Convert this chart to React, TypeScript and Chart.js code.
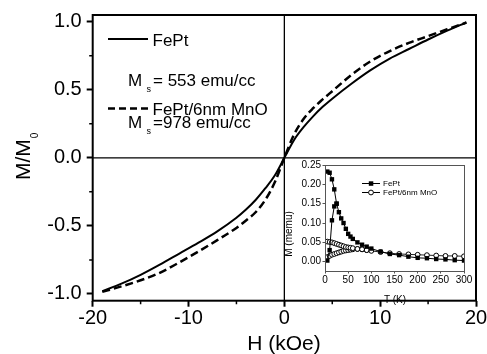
import React, { useEffect, useRef } from "react";
import { Chart, registerables } from "chart.js";

Chart.register(...registerables);

const FONT = "'Liberation Sans', Arial, Helvetica, sans-serif";

// ---- main hysteresis data ----
const H_VALUES = [-19, -17, -15, -13, -11, -9, -7, -5, -4, -3, -2, -1, 0, 1, 2, 3, 4, 5, 7, 9, 11, 13, 15, 17, 19];
const M_FEPT = [-0.98, -0.925, -0.86, -0.785, -0.705, -0.625, -0.54, -0.44, -0.38, -0.31, -0.225, -0.13, 0, 0.13, 0.225, 0.305, 0.375, 0.435, 0.545, 0.645, 0.73, 0.80, 0.87, 0.935, 0.995];
const M_FEPT_MNO = [-0.985, -0.945, -0.90, -0.845, -0.77, -0.69, -0.605, -0.515, -0.46, -0.40, -0.31, -0.18, 0, 0.17, 0.285, 0.365, 0.43, 0.49, 0.61, 0.71, 0.785, 0.845, 0.895, 0.945, 0.995];
const X_TICKS = [-20, -10, 0, 10, 20];
const Y_TICKS = [-1, -0.5, 0, 0.5, 1];
const X_MINOR = [-15, -5, 5, 15];
const Y_MINOR = [-0.75, -0.25, 0.25, 0.75];

// ---- inset M(T) data ----
const T_FC = [5, 10, 15, 20, 25, 30, 35, 40, 45, 50, 55, 60, 70, 80, 90, 100, 120, 140, 160, 180, 200, 220, 240, 260, 280, 300];
const FEPT_FC = [0.233, 0.230, 0.213, 0.187, 0.150, 0.128, 0.112, 0.100, 0.085, 0.072, 0.065, 0.059, 0.050, 0.044, 0.039, 0.034, 0.026, 0.020, 0.017, 0.013, 0.010, 0.009, 0.007, 0.006, 0.004, 0.003];
const T_FEPT_ZFC = [5, 10, 15, 20, 25];
const FEPT_ZFC = [0.003, 0.030, 0.107, 0.143, 0.150];
const MNO_FC = [0.052, 0.051, 0.050, 0.048, 0.046, 0.044, 0.042, 0.040, 0.038, 0.037, 0.036, 0.035, 0.033, 0.032, 0.030, 0.028, 0.025, 0.022, 0.020, 0.019, 0.018, 0.017, 0.016, 0.015, 0.015, 0.014];
const T_MNO_ZFC = [5, 10, 15, 20, 25, 30, 35, 40, 45, 50, 55, 60, 70, 80, 90];
const MNO_ZFC = [0.012, 0.015, 0.018, 0.020, 0.022, 0.024, 0.026, 0.028, 0.029, 0.030, 0.031, 0.032, 0.033, 0.032, 0.030];
const INSET_X_TICKS = [0, 50, 100, 150, 200, 250, 300];
const INSET_Y_TICKS = [0, 0.05, 0.1, 0.15, 0.2, 0.25];

const pts = (xs: number[], ys: number[]) => xs.map((x, i) => ({ x, y: ys[i] }));

const mainPlugin = {
  id: "mainDecor",
  beforeDatasetsDraw(chart: any) {
    const { ctx, chartArea, scales } = chart;
    const x0 = scales.x.getPixelForValue(0);
    const y0 = scales.y.getPixelForValue(0);
    ctx.save();
    ctx.strokeStyle = "#000";
    ctx.lineWidth = 1.3;
    ctx.beginPath();
    ctx.moveTo(x0, chartArea.top);
    ctx.lineTo(x0, chartArea.bottom);
    ctx.moveTo(chartArea.left, y0);
    ctx.lineTo(chartArea.right, y0);
    ctx.stroke();
    ctx.restore();
  },
  afterDraw(chart: any) {
    const { ctx, chartArea, scales } = chart;
    ctx.save();
    ctx.strokeStyle = "#000";
    ctx.lineWidth = 2;
    ctx.strokeRect(chartArea.left, chartArea.top, chartArea.right - chartArea.left, chartArea.bottom - chartArea.top);
    // minor ticks
    ctx.lineWidth = 1.5;
    ctx.beginPath();
    X_MINOR.forEach((v) => {
      const px = scales.x.getPixelForValue(v);
      ctx.moveTo(px, chartArea.bottom);
      ctx.lineTo(px, chartArea.bottom + 3.5);
    });
    Y_MINOR.forEach((v) => {
      const py = scales.y.getPixelForValue(v);
      ctx.moveTo(chartArea.left, py);
      ctx.lineTo(chartArea.left - 3.5, py);
    });
    ctx.stroke();

    ctx.fillStyle = "#000";
    // x title
    ctx.font = `21px ${FONT}`;
    ctx.textAlign = "center";
    ctx.textBaseline = "alphabetic";
    ctx.fillText("H (kOe)", 284, 350);
    // y title M/M0
    ctx.save();
    ctx.translate(30, 180);
    ctx.rotate(-Math.PI / 2);
    ctx.textAlign = "left";
    ctx.font = `21px ${FONT}`;
    ctx.fillText("M/M", 0, 0);
    const w = ctx.measureText("M/M").width;
    ctx.font = `10px ${FONT}`;
    ctx.fillText("0", w + 1, 8);
    ctx.restore();

    // legend
    ctx.lineWidth = 2;
    ctx.beginPath();
    ctx.moveTo(108, 39);
    ctx.lineTo(148, 39);
    ctx.stroke();
    ctx.lineWidth = 2.5;
    ctx.setLineDash([7, 4]);
    ctx.beginPath();
    ctx.moveTo(108, 108.5);
    ctx.lineTo(148, 108.5);
    ctx.stroke();
    ctx.setLineDash([]);
    ctx.textAlign = "left";
    ctx.font = `17px ${FONT}`;
    ctx.fillText("FePt", 152.5, 45.7);
    ctx.fillText("FePt/6nm MnO", 152.5, 115);
    const msLine = (y: number, rest: string) => {
      ctx.font = `17px ${FONT}`;
      ctx.fillText("M", 128, y);
      ctx.font = `9px ${FONT}`;
      ctx.fillText("s", 146.5, y + 5.5);
      ctx.font = `17px ${FONT}`;
      ctx.fillText(rest, 153, y);
    };
    msLine(86, "= 553 emu/cc");
    msLine(128.3, "=978 emu/cc");
    ctx.restore();
  },
};

const insetPlugin = {
  id: "insetDecor",
  afterDraw(chart: any) {
    const { ctx, chartArea } = chart;
    ctx.save();
    ctx.strokeStyle = "#555";
    ctx.lineWidth = 1;
    ctx.strokeRect(chartArea.left + 0.5, chartArea.top + 0.5, chartArea.right - chartArea.left, chartArea.bottom - chartArea.top);
    ctx.fillStyle = "#000";
    ctx.font = `10px ${FONT}`;
    ctx.textAlign = "center";
    ctx.textBaseline = "alphabetic";
    ctx.fillText("T (K)", 395, 302.5);
    ctx.save();
    ctx.translate(292, 234);
    ctx.rotate(-Math.PI / 2);
    ctx.fillText("M (memu)", 0, 0);
    ctx.restore();

    // legend
    ctx.strokeStyle = "#000";
    ctx.lineWidth = 1;
    ctx.beginPath();
    ctx.moveTo(362, 183.5);
    ctx.lineTo(380, 183.5);
    ctx.moveTo(362, 192.5);
    ctx.lineTo(380, 192.5);
    ctx.stroke();
    ctx.fillStyle = "#000";
    ctx.fillRect(368.8, 181.3, 4.5, 4.5);
    ctx.beginPath();
    ctx.arc(371, 192.5, 2.4, 0, Math.PI * 2);
    ctx.fillStyle = "#fff";
    ctx.fill();
    ctx.stroke();
    ctx.fillStyle = "#000";
    ctx.font = `8px ${FONT}`;
    ctx.textAlign = "left";
    ctx.fillText("FePt", 383, 186.3);
    ctx.fillText("FePt/6nm MnO", 383, 195.3);
    ctx.restore();
  },
};

export default function App() {
  const mainRef = useRef<HTMLCanvasElement>(null);
  const insetRef = useRef<HTMLCanvasElement>(null);

  useEffect(() => {
    const main = new Chart(mainRef.current as HTMLCanvasElement, {
      type: "scatter",
      data: {
        datasets: [
          {
            data: pts(H_VALUES, M_FEPT),
            showLine: true,
            borderColor: "#000",
            borderWidth: 2,
            pointRadius: 0,
            cubicInterpolationMode: "monotone",
          },
          {
            data: pts(H_VALUES, M_FEPT_MNO),
            showLine: true,
            borderColor: "#000",
            borderWidth: 2.5,
            borderDash: [8, 4],
            pointRadius: 0,
            cubicInterpolationMode: "monotone",
          },
        ],
      } as any,
      options: {
        responsive: false,
        animation: false,
        devicePixelRatio: 1,
        layout: { padding: { top: 15, right: 11, left: 0, bottom: 0 } },
        plugins: { legend: { display: false }, tooltip: { enabled: false } },
        scales: {
          x: {
            type: "linear",
            min: -20,
            max: 20,
            afterBuildTicks: (s: any) => {
              s.ticks = X_TICKS.map((v) => ({ value: v }));
            },
            afterFit: (s: any) => {
              s.height = 53.3;
              s.paddingLeft = 0;
              s.paddingRight = 0;
            },
            ticks: {
              font: { family: FONT, size: 20 },
              color: "#000",
              padding: 0,
              maxRotation: 0,
              autoSkip: false,
              callback: (v: any) => String(v),
            },
            grid: { drawOnChartArea: false, tickLength: 6, tickWidth: 2, tickColor: "#000" },
            border: { display: false },
          },
          y: {
            type: "linear",
            min: -1.05,
            max: 1.05,
            afterBuildTicks: (s: any) => {
              s.ticks = Y_TICKS.map((v) => ({ value: v }));
            },
            afterFit: (s: any) => {
              s.width = 92.7;
              s.paddingTop = 0;
              s.paddingBottom = 0;
            },
            ticks: {
              font: { family: FONT, size: 20 },
              color: "#000",
              padding: 5,
              autoSkip: false,
              callback: (v: any) => Number(v).toFixed(1),
            },
            grid: { drawOnChartArea: false, tickLength: 6, tickWidth: 2, tickColor: "#000" },
            border: { display: false },
          },
        },
      } as any,
      plugins: [mainPlugin],
    });

    const inset = new Chart(insetRef.current as HTMLCanvasElement, {
      type: "scatter",
      data: {
        datasets: [
          {
            data: pts(T_FC, FEPT_FC),
            showLine: true,
            borderColor: "#000",
            borderWidth: 1,
            pointStyle: "rect",
            pointRadius: 3.1,
            backgroundColor: "#000",
            pointBorderWidth: 0,
          },
          {
            data: pts(T_FEPT_ZFC, FEPT_ZFC),
            showLine: true,
            borderColor: "#000",
            borderWidth: 1,
            pointStyle: "rect",
            pointRadius: 3.1,
            backgroundColor: "#000",
            pointBorderWidth: 0,
          },
          {
            data: pts(T_FC, MNO_FC),
            showLine: true,
            borderColor: "#222",
            borderWidth: 1,
            pointStyle: "circle",
            pointRadius: 2.4,
            backgroundColor: "#fff",
            pointBorderColor: "#000",
            pointBorderWidth: 1,
          },
          {
            data: pts(T_MNO_ZFC, MNO_ZFC),
            showLine: true,
            borderColor: "#222",
            borderWidth: 1,
            pointStyle: "circle",
            pointRadius: 2.4,
            backgroundColor: "#fff",
            pointBorderColor: "#000",
            pointBorderWidth: 1,
          },
        ],
      } as any,
      options: {
        responsive: false,
        animation: false,
        devicePixelRatio: 1,
        layout: { padding: { top: 165, right: 23, left: 0, bottom: 0 } },
        plugins: { legend: { display: false }, tooltip: { enabled: false } },
        scales: {
          x: {
            type: "linear",
            min: 0,
            max: 300,
            afterBuildTicks: (s: any) => {
              s.ticks = INSET_X_TICKS.map((v) => ({ value: v }));
            },
            afterFit: (s: any) => {
              s.height = 83;
              s.paddingLeft = 0;
              s.paddingRight = 0;
            },
            ticks: {
              font: { family: FONT, size: 10 },
              color: "#000",
              padding: 1,
              maxRotation: 0,
              autoSkip: false,
              callback: (v: any) => String(v),
            },
            grid: { drawOnChartArea: false, tickLength: 2.5, tickWidth: 1, tickColor: "#555" },
            border: { display: false },
          },
          y: {
            type: "linear",
            min: -0.024,
            max: 0.25,
            afterBuildTicks: (s: any) => {
              s.ticks = INSET_Y_TICKS.map((v) => ({ value: v }));
            },
            afterFit: (s: any) => {
              s.width = 325;
              s.paddingTop = 0;
              s.paddingBottom = 0;
            },
            ticks: {
              font: { family: FONT, size: 10 },
              color: "#000",
              padding: 1.5,
              autoSkip: false,
              callback: (v: any) => Number(v).toFixed(2),
            },
            grid: { drawOnChartArea: false, tickLength: 2.5, tickWidth: 1, tickColor: "#555" },
            border: { display: false },
          },
        },
      } as any,
      plugins: [insetPlugin],
    });

    return () => {
      main.destroy();
      inset.destroy();
    };
  }, []);

  return (
    <div style={{ position: "fixed", left: 0, top: 0, width: 487, height: 354, background: "#fff" }}>
      <canvas ref={mainRef} width={487} height={354} style={{ position: "absolute", left: 0, top: 0 }} />
      <canvas ref={insetRef} width={487} height={354} style={{ position: "absolute", left: 0, top: 0 }} />
    </div>
  );
}
